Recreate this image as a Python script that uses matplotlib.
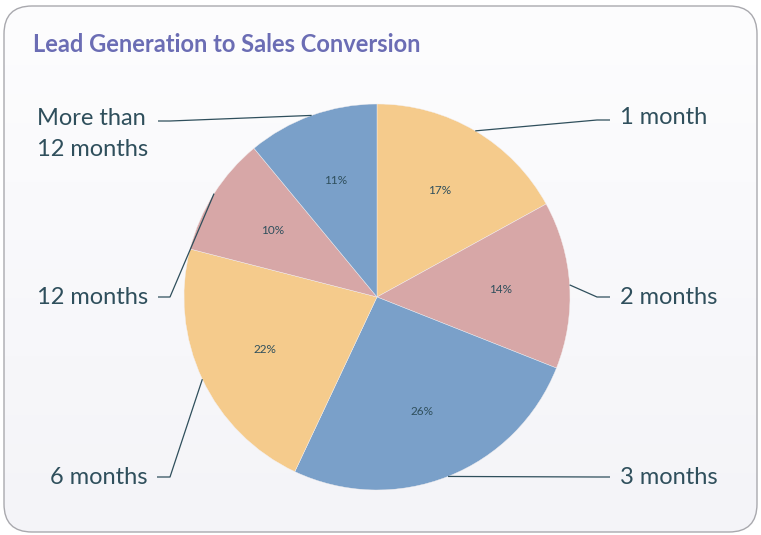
"""
Lead generation to sales conversion: pie chart with leader-line labels,
drawn in a pixel-coordinate axes over a rounded card background.
"""
import numpy as np
import matplotlib
matplotlib.use("Agg")
import matplotlib.pyplot as plt
from matplotlib.patches import FancyBboxPatch

# data
categories = ["1 month", "2 months", "3 months", "6 months", "12 months", "More than\n12 months"]
shares = [17, 14, 26, 22, 10, 11]
colors = ["#F5CB8C", "#D7A7A7", "#7AA0C9", "#F5CB8C", "#D7A7A7", "#7AA0C9"]
title = "Lead Generation to Sales Conversion"

# layout (pixels, origin bottom-left)
W, H = 761, 535
center = (377, H - 297)
radius = 193
label_pos = [(620, H - 118), (620, H - 297), (620, H - 477),
             (148, H - 477), (148, H - 297), (148, H - 134)]
line_ends = [(610, 597), (610, 597), (610, 597),
             (157, 170), (158, 170), (158, 170)]
line_y = [H - 120, H - 297, H - 477, H - 477, H - 297, H - 121]

TEXT = "#2F4F5C"
FONT = ["Lato", "DejaVu Sans"]

fig = plt.figure(figsize=(W / 100, H / 100), dpi=100)
ax = fig.add_axes([0, 0, 1, 1])

# card background with soft vertical gradient
card = FancyBboxPatch((4 + 28, 3 + 28), 753 - 56, 526 - 56,
                      boxstyle="round,pad=28", facecolor="none",
                      edgecolor="#A9A9AE", linewidth=1.0, zorder=2)
ax.add_patch(card)
grad = np.linspace(0, 1, 256).reshape(-1, 1)
img = ax.imshow(grad, extent=(4, 757, 3, 529), origin="upper",
                cmap=matplotlib.colors.LinearSegmentedColormap.from_list(
                    "bg", ["#FDFDFE", "#F4F4F8"]),
                aspect="auto", zorder=1)
img.set_clip_path(card)

wedges, _, autotexts = ax.pie(
    shares, colors=colors, startangle=90, counterclock=False,
    center=center, radius=radius, autopct="%d%%", pctdistance=0.64,
    wedgeprops=dict(edgecolor="#F4F0F0", linewidth=0.3),
    textprops=dict(color=TEXT, fontsize=8.5, family=FONT),
)
for w in wedges:
    w.set_zorder(3)
for t in autotexts:
    t.set_zorder(4)

ax.set_xlim(0, W)
ax.set_ylim(0, H)
ax.set_aspect("equal")
ax.axis("off")

# leader lines from wedge mid-angles
for w, (x0, xe), y0 in zip(wedges, line_ends, line_y):
    mid = np.deg2rad((w.theta1 + w.theta2) / 2)
    ex = center[0] + radius * np.cos(mid)
    ey = center[1] + radius * np.sin(mid)
    ax.plot([x0, xe, ex], [y0, y0, ey], color=TEXT, linewidth=0.9,
            zorder=5, solid_capstyle="butt")

for name, (lx, ly) in zip(categories, label_pos):
    ha = "left" if lx > center[0] else "right"
    ax.text(lx, ly, name, ha=ha, va="center", multialignment="left",
            fontsize=17, color=TEXT, family=FONT, linespacing=1.55, zorder=6)

ax.text(33, H - 45, title, ha="left", va="center", fontsize=17,
        fontweight="bold", color="#6B6DB4", family=FONT, zorder=6)

fig.savefig("out.png", dpi=100)
